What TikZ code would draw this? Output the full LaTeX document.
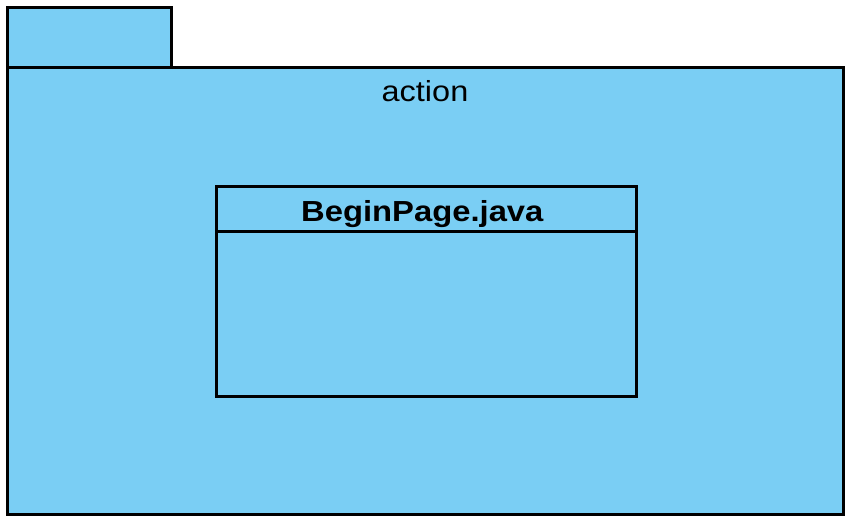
\documentclass[tikz,border=0pt]{standalone}
\usepackage{fontspec}
\setmainfont{Liberation Sans}
\definecolor{pkgblue}{HTML}{7ACEF4}
\begin{document}
\begin{tikzpicture}[x=1pt,y=-1pt,
  box/.style={draw=black,fill=pkgblue,line width=3pt},
  lbl/.style={inner sep=0pt,anchor=base}]
\useasboundingbox (0,0) rectangle (858,528);
\draw[box] (7,7) rectangle (171,67);
\draw[box] (7,67) rectangle (843,514);
\node[lbl] (pkg) at (425,101) {\fontsize{29}{34}\selectfont\scalebox{1.12}[1]{action}};
\draw[box] (216,186) rectangle (636,396);
\draw[line width=3pt] (216,231) -- (636,231);
\node[lbl] (cls) at (422.3,221) {\fontsize{29}{34}\selectfont\bfseries\scalebox{1.13}[1]{BeginPage.java}};
\end{tikzpicture}
\end{document}
